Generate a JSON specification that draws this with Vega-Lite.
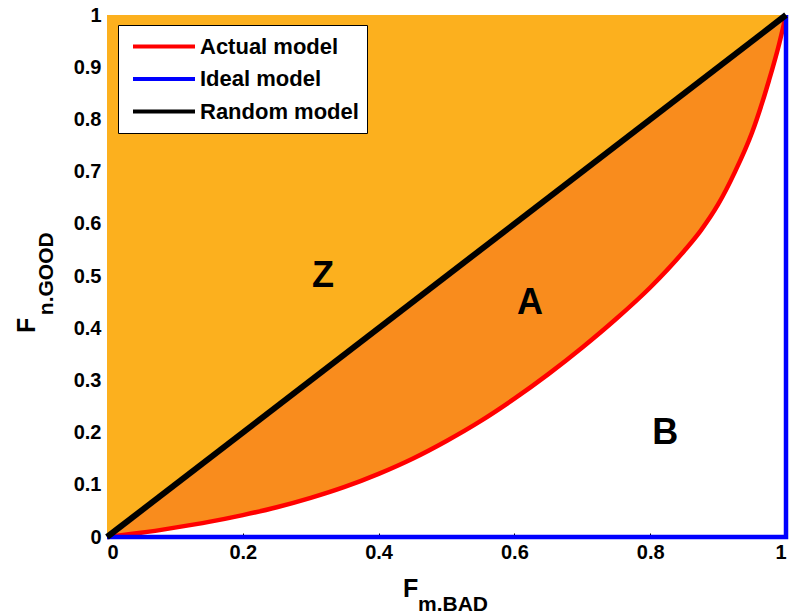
{
  "$schema": "https://vega.github.io/schema/vega-lite/v6.json",
  "autosize": "none",
  "width": 679,
  "height": 522,
  "padding": {"left": 107, "top": 15, "right": 13, "bottom": 78},
  "background": "white",
  "config": {
    "view": {"stroke": "black", "strokeWidth": 1},
    "font": "Liberation Sans",
    "axis": {"grid": false, "labelFont": "Liberation Sans", "labelFontWeight": "bold", "labelFontSize": 20, "labelColor": "black", "domainColor": "black", "tickColor": "black", "ticks": false, "title": null}
  },
  "datasets": {
    "curve": [
      {"x": 0, "y": 0}, {"x": 0.05, "y": 0.008}, {"x": 0.1, "y": 0.018}, {"x": 0.15, "y": 0.029},
      {"x": 0.2, "y": 0.042}, {"x": 0.25, "y": 0.057}, {"x": 0.3, "y": 0.075}, {"x": 0.35, "y": 0.096},
      {"x": 0.4, "y": 0.121}, {"x": 0.45, "y": 0.15}, {"x": 0.5, "y": 0.184}, {"x": 0.55, "y": 0.222},
      {"x": 0.6, "y": 0.265}, {"x": 0.65, "y": 0.312}, {"x": 0.7, "y": 0.363}, {"x": 0.75, "y": 0.418},
      {"x": 0.8, "y": 0.478}, {"x": 0.85, "y": 0.548}, {"x": 0.875, "y": 0.588}, {"x": 0.9, "y": 0.637},
      {"x": 0.925, "y": 0.7}, {"x": 0.95, "y": 0.775}, {"x": 0.975, "y": 0.875}, {"x": 0.99, "y": 0.945},
      {"x": 1, "y": 1}
    ],
    "actual": [
      {"series": "Actual model", "x": 0, "y": 0}, {"series": "Actual model", "x": 0.05, "y": 0.008},
      {"series": "Actual model", "x": 0.1, "y": 0.018}, {"series": "Actual model", "x": 0.15, "y": 0.029},
      {"series": "Actual model", "x": 0.2, "y": 0.042}, {"series": "Actual model", "x": 0.25, "y": 0.057},
      {"series": "Actual model", "x": 0.3, "y": 0.075}, {"series": "Actual model", "x": 0.35, "y": 0.096},
      {"series": "Actual model", "x": 0.4, "y": 0.121}, {"series": "Actual model", "x": 0.45, "y": 0.15},
      {"series": "Actual model", "x": 0.5, "y": 0.184}, {"series": "Actual model", "x": 0.55, "y": 0.222},
      {"series": "Actual model", "x": 0.6, "y": 0.265}, {"series": "Actual model", "x": 0.65, "y": 0.312},
      {"series": "Actual model", "x": 0.7, "y": 0.363}, {"series": "Actual model", "x": 0.75, "y": 0.418},
      {"series": "Actual model", "x": 0.8, "y": 0.478}, {"series": "Actual model", "x": 0.85, "y": 0.548},
      {"series": "Actual model", "x": 0.875, "y": 0.588}, {"series": "Actual model", "x": 0.9, "y": 0.637},
      {"series": "Actual model", "x": 0.925, "y": 0.7}, {"series": "Actual model", "x": 0.95, "y": 0.775},
      {"series": "Actual model", "x": 0.975, "y": 0.875}, {"series": "Actual model", "x": 0.99, "y": 0.945},
      {"series": "Actual model", "x": 1, "y": 1}
    ],
    "others": [
      {"series": "Ideal model", "o": 0, "x": 0, "y": 0}, {"series": "Ideal model", "o": 1, "x": 1, "y": 0},
      {"series": "Ideal model", "o": 2, "x": 1, "y": 1},
      {"series": "Random model", "o": 0, "x": 0, "y": 0}, {"series": "Random model", "o": 1, "x": 1, "y": 1}
    ],
    "regions": [
      {"label": "Z", "x": 0.318, "y": 0.5},
      {"label": "A", "x": 0.623, "y": 0.449},
      {"label": "B", "x": 0.822, "y": 0.199}
    ]
  },
  "layer": [
    {
      "data": {"name": "curve"},
      "mark": {"type": "area", "color": "#FCB01E", "opacity": 1},
      "encoding": {
        "x": {"field": "x", "type": "quantitative", "scale": {"domain": [0, 1], "nice": false},
              "axis": {"values": [0, 0.2, 0.4, 0.6, 0.8, 1], "format": ".1~f", "labelPadding": 9, "ticks": true, "tickSize": -4, "domain": false}},
        "y": {"field": "x", "type": "quantitative", "scale": {"domain": [0, 1], "nice": false},
              "axis": {"values": [0, 0.1, 0.2, 0.3, 0.4, 0.5, 0.6, 0.7, 0.8, 0.9, 1], "format": ".1~f", "labelPadding": 6, "domainWidth": 1}},
        "y2": {"datum": 1}
      }
    },
    {
      "data": {"name": "curve"},
      "mark": {"type": "area", "color": "#F98C1D", "opacity": 1, "interpolate": "monotone"},
      "encoding": {
        "x": {"field": "x", "type": "quantitative"},
        "y": {"field": "y", "type": "quantitative"},
        "y2": {"field": "x"}
      }
    },
    {
      "data": {"name": "actual"},
      "mark": {"type": "line", "strokeCap": "butt", "strokeJoin": "round", "interpolate": "monotone", "strokeWidth": 4.5},
      "encoding": {
        "x": {"field": "x", "type": "quantitative"},
        "y": {"field": "y", "type": "quantitative"},
        "color": {"field": "series", "type": "nominal",
                  "scale": {"domain": ["Actual model", "Ideal model", "Random model"], "range": ["#FF0000", "#0000FF", "#000000"]},
                  "legend": {"title": null, "orient": "none", "legendX": 11, "legendY": 10,
                             "fillColor": "white", "strokeColor": "black", "padding": 8,
                             "symbolType": "stroke", "symbolSize": 3844, "symbolStrokeWidth": 4, "symbolOffset": 5,
                             "labelFont": "Liberation Sans", "labelFontWeight": "bold", "labelFontSize": 22, "labelColor": "black",
                             "labelOffset": 3, "clipHeight": 27, "rowPadding": 5.5}}
      }
    },
    {
      "data": {"name": "others"},
      "mark": {"type": "line", "strokeCap": "butt", "strokeJoin": "miter"},
      "encoding": {
        "x": {"field": "x", "type": "quantitative"},
        "y": {"field": "y", "type": "quantitative"},
        "order": {"field": "o", "type": "quantitative"},
        "color": {"field": "series", "type": "nominal"},
        "strokeWidth": {"field": "series", "type": "nominal",
                        "scale": {"domain": ["Ideal model", "Random model"], "range": [4.5, 6]},
                        "legend": null}
      }
    },
    {
      "data": {"name": "regions"},
      "mark": {"type": "text", "font": "Liberation Sans", "fontWeight": "bold", "fontSize": 36, "color": "black", "align": "center", "baseline": "middle"},
      "encoding": {
        "x": {"field": "x", "type": "quantitative"},
        "y": {"field": "y", "type": "quantitative"},
        "text": {"field": "label"}
      }
    },
    {
      "data": {"values": [{"t": "F", "x": 0.436, "y": -0.115}]},
      "mark": {"type": "text", "font": "Liberation Sans", "fontWeight": "bold", "fontSize": 25, "color": "black", "align": "left", "baseline": "alphabetic"},
      "encoding": {"x": {"field": "x", "type": "quantitative"}, "y": {"field": "y", "type": "quantitative"}, "text": {"field": "t"}}
    },
    {
      "data": {"values": [{"t": "m.BAD", "x": 0.458, "y": -0.142}]},
      "mark": {"type": "text", "font": "Liberation Sans", "fontWeight": "bold", "fontSize": 21, "color": "black", "align": "left", "baseline": "alphabetic"},
      "encoding": {"x": {"field": "x", "type": "quantitative"}, "y": {"field": "y", "type": "quantitative"}, "text": {"field": "t"}}
    },
    {
      "data": {"values": [{"t": "F", "x": -0.106, "y": 0.391}]},
      "mark": {"type": "text", "font": "Liberation Sans", "fontWeight": "bold", "fontSize": 25, "color": "black", "align": "left", "baseline": "alphabetic", "angle": 270},
      "encoding": {"x": {"field": "x", "type": "quantitative"}, "y": {"field": "y", "type": "quantitative"}, "text": {"field": "t"}}
    },
    {
      "data": {"values": [{"t": "n.GOOD", "x": -0.0795, "y": 0.425}]},
      "mark": {"type": "text", "font": "Liberation Sans", "fontWeight": "bold", "fontSize": 21, "color": "black", "align": "left", "baseline": "alphabetic", "angle": 270},
      "encoding": {"x": {"field": "x", "type": "quantitative"}, "y": {"field": "y", "type": "quantitative"}, "text": {"field": "t"}}
    }
  ]
}
